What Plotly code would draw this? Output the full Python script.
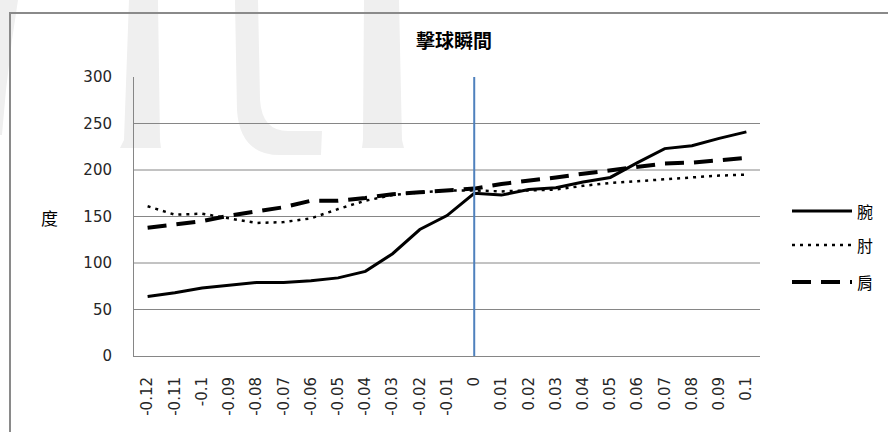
import plotly.graph_objects as go

# Time relative to ball impact (s) and joint angles (degrees)
times = ["-0.12", "-0.11", "-0.1", "-0.09", "-0.08", "-0.07", "-0.06", "-0.05",
         "-0.04", "-0.03", "-0.02", "-0.01", "0", "0.01", "0.02", "0.03", "0.04",
         "0.05", "0.06", "0.07", "0.08", "0.09", "0.1"]
wrist = [64, 68, 73, 76, 79, 79, 81, 84, 91, 110, 136, 151, 175,
         173, 179, 181, 187, 192, 208, 223, 226, 234, 241]
elbow = [161, 152, 153, 148, 143, 144, 148, 158, 167, 173, 176, 178, 178,
         177, 178, 179, 183, 186, 188, 190, 192, 194, 195]
shoulder = [138, 142, 145, 151, 155, 160, 167, 167, 170, 174, 176, 178, 180,
            185, 188, 192, 196, 200, 204, 207, 208, 210, 213]
y_ticks = [0, 50, 100, 150, 200, 250, 300]
impact_time = "0"

series = [
    ("腕", wrist, dict(color="#000000", width=3, dash="solid")),
    ("肘", elbow, dict(color="#000000", width=2.5, dash="3px,5px")),
    ("肩", shoulder, dict(color="#000000", width=4, dash="19px,10px")),
]

W, H = 888, 432
L, R, T, B = 134, 128, 77, 76
PW, PH = W - L - R, H - T - B


def px(x):
    return (x - L) / PW


def py(y):
    return (H - B - y) / PH


fig = go.Figure()
for name, vals, line in series:
    fig.add_trace(go.Scatter(x=times, y=vals, mode="lines", name=name,
                             line=line, showlegend=False))

shapes = []

# faint background lettering
wm = "#efefef"
polys = [
    [(0, 0), (18, 0), (12, 40), (6, 90), (2, 135), (0, 135)],
    [(129, 0), (158, 0), (160, 140), (161, 148), (120, 148), (124, 140)],
    [(364, 0), (399, 0), (402, 140), (404, 148), (362, 148), (363, 140)],
]
for poly in polys:
    d = "M " + " L ".join(f"{px(a):.4f},{py(b):.4f}" for a, b in poly) + " Z"
    shapes.append(dict(type="path", xref="paper", yref="paper", path=d,
                       fillcolor=wm, line=dict(width=0), layer="below"))
c_path = (f"M {px(235):.4f},{py(0):.4f} L {px(237):.4f},{py(110):.4f} "
          f"Q {px(240):.4f},{py(155):.4f} {px(280):.4f},{py(155):.4f} "
          f"L {px(321):.4f},{py(155):.4f} L {px(322):.4f},{py(131):.4f} "
          f"L {px(288):.4f},{py(131):.4f} Q {px(262):.4f},{py(131):.4f} {px(260):.4f},{py(100):.4f} "
          f"L {px(258):.4f},{py(0):.4f} Z")
shapes.append(dict(type="path", xref="paper", yref="paper", path=c_path,
                   fillcolor=wm, line=dict(width=0), layer="below"))

# chart frame
shapes.append(dict(type="rect", xref="paper", yref="paper",
                   x0=px(10), x1=px(900), y0=py(13), y1=py(450),
                   line=dict(color="#8a8a8a", width=2), fillcolor="rgba(0,0,0,0)",
                   layer="below"))

# horizontal gridlines (none at the top of the range)
for v in y_ticks[1:-1]:
    shapes.append(dict(type="line", xref="paper", yref="y", x0=0, x1=1, y0=v, y1=v,
                       line=dict(color="#868686", width=1), layer="below"))

# impact marker (category axis shapes take the category index)
impact_idx = times.index(impact_time)
shapes.append(dict(type="line", xref="x", yref="y", x0=impact_idx, x1=impact_idx,
                   y0=y_ticks[0], y1=y_ticks[-1], line=dict(color="#4f81bd", width=2)))

# legend
annotations = []
leg_y = [211, 245, 282]
for (name, _, line), yy in zip(series, leg_y):
    shapes.append(dict(type="line", xref="paper", yref="paper",
                       x0=px(792), x1=px(852), y0=py(yy), y1=py(yy), line=line))
    annotations.append(dict(text=name, xref="paper", yref="paper", x=px(855), y=py(yy),
                            xanchor="left", yanchor="middle", showarrow=False,
                            font=dict(family="Noto Sans CJK TC", size=16, color="#000")))

annotations.append(dict(text="<b>擊球瞬間</b>", xref="paper", yref="paper",
                        x=px(454), y=py(40), xanchor="center", yanchor="middle",
                        showarrow=False,
                        font=dict(family="Noto Sans CJK TC", size=19, color="#000")))
annotations.append(dict(text="度", xref="paper", yref="paper",
                        x=px(49), y=py(217), xanchor="center", yanchor="middle",
                        showarrow=False,
                        font=dict(family="Noto Sans CJK TC", size=17, color="#000")))

fig.update_layout(
    width=W, height=H,
    margin=dict(l=L, r=R, t=T, b=B, pad=0),
    paper_bgcolor="white", plot_bgcolor="rgba(0,0,0,0)",
    shapes=shapes, annotations=annotations, showlegend=False,
    xaxis=dict(type="category", categoryorder="array", categoryarray=times,
               range=[-0.5, len(times) - 0.5], tickangle=-90,
               showgrid=False, showline=True, linecolor="#868686", linewidth=1,
               zeroline=False, ticks="", ticklabelstandoff=14, automargin=False,
               tickfont=dict(family="DejaVu Sans", size=15, color="#262626")),
    yaxis=dict(range=[y_ticks[0], y_ticks[-1]], tickvals=y_ticks,
               showgrid=False, showline=True, linecolor="#868686", linewidth=1,
               zeroline=False, ticks="", ticklabelstandoff=18, automargin=False,
               tickfont=dict(family="DejaVu Sans", size=15, color="#262626")),
)

fig.write_html("out.html")
